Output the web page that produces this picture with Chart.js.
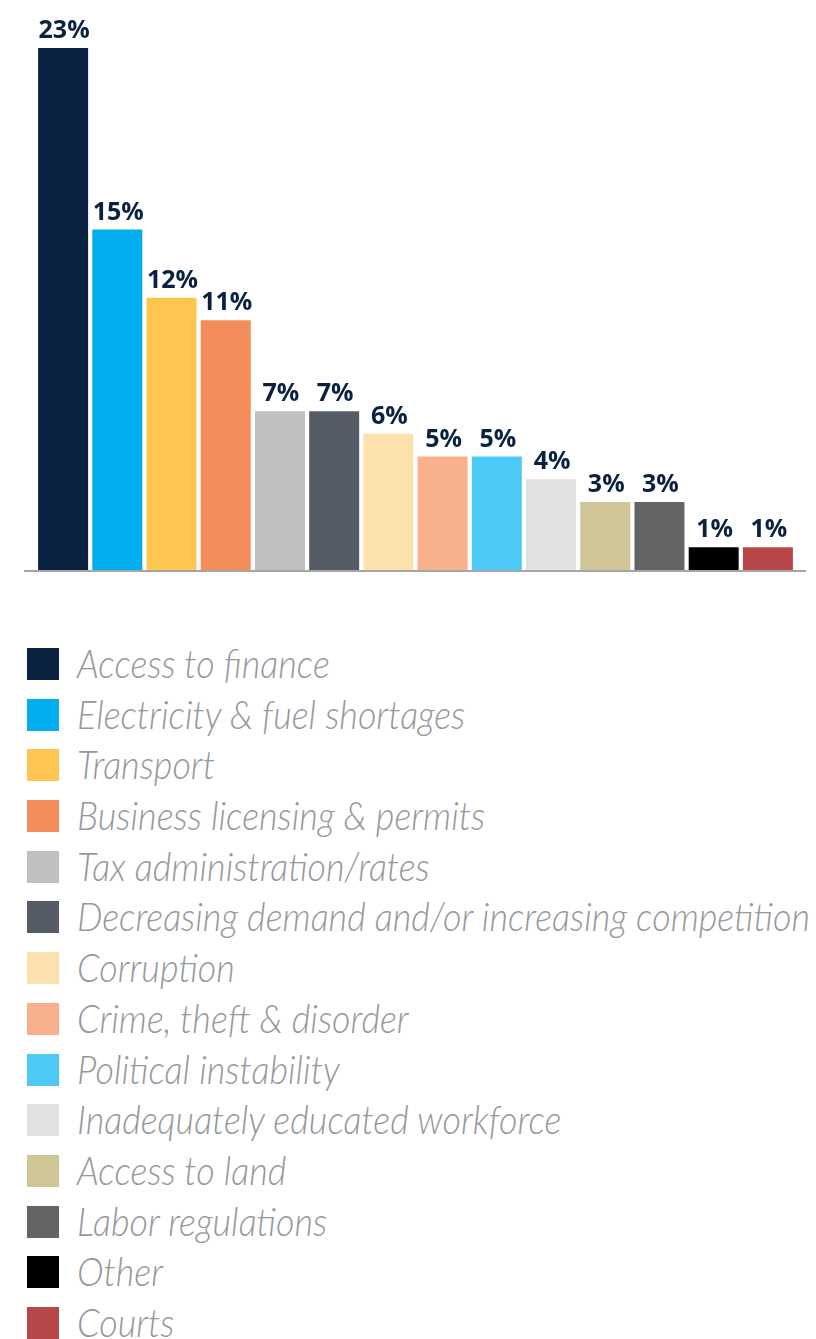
<!DOCTYPE html>
<html lang="en">
<head>
    <meta charset="UTF-8">
    <title>obstacles bar chart</title>
    <script src="https://cdn.jsdelivr.net/npm/chart.js"></script>
    <style>
        body {
            margin: 0;
            background: #ffffff;
        }
        .page {
            position: relative;
            width: 816px;
            height: 1339px;
            overflow: hidden;
        }
        .chart-container {
            position: absolute;
            left: 0;
            top: 0;
            width: 816px;
            height: 600px;
        }
        #legend {
            position: absolute;
            left: 0;
            top: 648px;
            width: 816px;
        }
        .legend-row {
            position: relative;
            height: 50.7px;
        }
        .legend-box {
            position: absolute;
            left: 27px;
            top: 0;
            width: 32px;
            height: 32px;
        }
        .legend-text {
            position: absolute;
            left: 77px;
            top: -10px;
            font-family: Lato, "Open Sans", sans-serif;
            font-style: italic;
            font-weight: 300;
            font-size: 39px;
            line-height: 50px;
            color: #96989c;
            white-space: nowrap;
            transform-origin: left center;
        }
    </style>
</head>
<body>
<div class="page">
    <div class="chart-container">
        <canvas id="myBarChart"></canvas>
    </div>
    <div id="legend"></div>
</div>

<script>
    // data
    var categories = [
        'Access to finance',
        'Electricity & fuel shortages',
        'Transport',
        'Business licensing & permits',
        'Tax administration/rates',
        'Decreasing demand and/or increasing competition',
        'Corruption',
        'Crime, theft & disorder',
        'Political instability',
        'Inadequately educated workforce',
        'Access to land',
        'Labor regulations',
        'Other',
        'Courts'
    ];
    var shares = [23, 15, 12, 11, 7, 7, 6, 5, 5, 4, 3, 3, 1, 1];
    var barColors = [
        '#0a2240', '#00aeef', '#fec651', '#f58d5b', '#bebfc1', '#565c67', '#fde1ad',
        '#f9b08d', '#4dc9f5', '#e0e1e3', '#cfc597', '#636466', '#000000', '#b8474a'
    ];

    // value labels on top of each bar
    var valueLabels = {
        id: 'valueLabels',
        afterDatasetsDraw: function (chart) {
            var ctx = chart.ctx;
            var meta = chart.getDatasetMeta(0);
            ctx.save();
            ctx.font = 'bold 25px "Open Sans", sans-serif';
            ctx.fillStyle = '#0a2240';
            ctx.textAlign = 'center';
            ctx.textBaseline = 'alphabetic';
            meta.data.forEach(function (bar, i) {
                ctx.fillText(shares[i] + '%', bar.x + 1, bar.y - 10);
            });
            ctx.restore();
        }
    };

    // grey base line, a bit wider than the bars
    var baseLine = {
        id: 'baseLine',
        afterDatasetsDraw: function (chart) {
            var ctx = chart.ctx;
            var y = chart.scales.y.getPixelForValue(0);
            ctx.save();
            ctx.strokeStyle = '#a3a5a8';
            ctx.lineWidth = 2;
            ctx.beginPath();
            ctx.moveTo(24, y + 1);
            ctx.lineTo(806, y + 1);
            ctx.stroke();
            ctx.restore();
        }
    };

    var ctx = document.getElementById('myBarChart').getContext('2d');
    var myBarChart = new Chart(ctx, {
        type: 'bar',
        data: {
            labels: categories,
            datasets: [{
                data: shares,
                backgroundColor: barColors,
                borderWidth: 0,
                barPercentage: 0.922,
                categoryPercentage: 1
            }]
        },
        options: {
            responsive: true,
            maintainAspectRatio: false,
            animation: false,
            layout: {
                padding: {top: 48, bottom: 30, left: 36, right: 21}
            },
            plugins: {
                legend: {display: false},
                tooltip: {enabled: false}
            },
            scales: {
                x: {display: false},
                y: {display: false, min: 0, max: 23}
            }
        },
        plugins: [valueLabels, baseLine]
    });

    // legend, one row per category
    var legend = document.getElementById('legend');
    var texts = [];
    categories.forEach(function (name, i) {
        var row = document.createElement('div');
        row.className = 'legend-row';
        var box = document.createElement('div');
        box.className = 'legend-box';
        box.style.background = barColors[i];
        var txt = document.createElement('span');
        txt.className = 'legend-text';
        txt.textContent = name;
        row.appendChild(box);
        row.appendChild(txt);
        legend.appendChild(row);
        texts.push(txt);
    });

    // squeeze the text so the longest label spans like the original
    var widest = Math.max.apply(null, texts.map(function (t) { return t.getBoundingClientRect().width; }));
    var k = 733 / widest;
    texts.forEach(function (t) {
        t.style.transform = 'scaleX(' + k + ')';
    });
</script>
</body>
</html>
